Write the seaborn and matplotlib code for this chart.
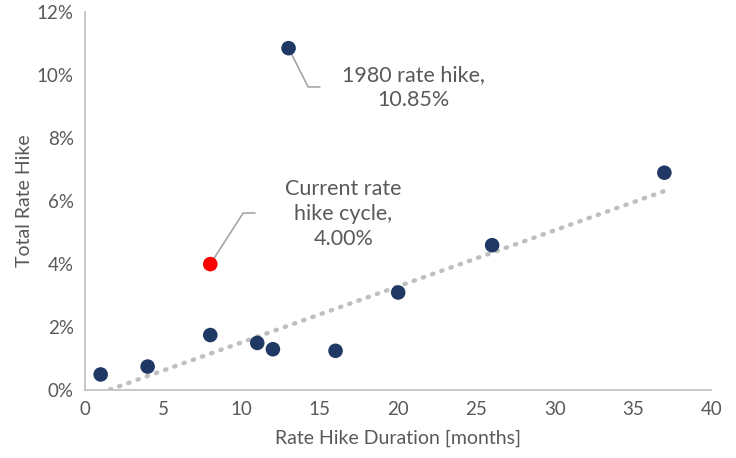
import numpy as np
import pandas as pd
import seaborn as sns
import matplotlib.pyplot as plt
from matplotlib.ticker import PercentFormatter

# historical hikes: duration in months, total hike in %
duration = [1, 4, 8, 11, 12, 13, 16, 20, 26, 37]
total_hike = [0.50, 0.75, 1.75, 1.50, 1.30, 10.85, 1.25, 3.10, 4.60, 6.90]
current_duration = [8]
current_hike = [4.00]
outlier_label = "1980 rate hike,\n10.85%"
current_label = "Current rate\nhike cycle,\n4.00%"

df = pd.DataFrame({"duration": duration, "hike": total_hike})
trend = df[df["hike"] < 10]  # trendline leaves out the 1980 outlier

sns.set_style("white")
plt.rcParams["font.family"] = ["Lato", "DejaVu Sans"]
txt = "#595959"
navy = "#1f3864"

fig = plt.figure(figsize=(7.36, 4.58), dpi=100)
ax = fig.add_axes([0.1155, 0.148, 0.851, 0.826])

sns.regplot(data=trend, x="duration", y="hike", ci=None, scatter=False, ax=ax,
            line_kws=dict(color="#bfbfbf", lw=3.2, ls=(0, (0.3, 1.9)),
                          dash_capstyle="round", zorder=1))
sns.scatterplot(data=df, x="duration", y="hike", ax=ax, color=navy, s=110,
                edgecolor="none", zorder=3)
sns.scatterplot(x=current_duration, y=current_hike, ax=ax, color="#ff0000",
                s=110, edgecolor="none", zorder=3)

# leader lines for the labels
ax.plot([13, 14.25, 15.0], [10.85, 9.62, 9.62], color="#a6a6a6", lw=1.2, zorder=2)
ax.plot([8, 10.1, 10.86], [4.0, 5.62, 5.62], color="#a6a6a6", lw=1.2, zorder=2)
ax.text(20.96, 9.59, outlier_label, ha="center", va="center", fontsize=15.5,
        color=txt, linespacing=1.3)
ax.text(16.5, 5.59, current_label, ha="center", va="center", fontsize=15.5,
        color=txt, linespacing=1.3)

ax.set_xlim(0, 40)
ax.set_ylim(0, 12)
ax.set_xticks(range(0, 41, 5))
ax.set_yticks(range(0, 13, 2))
ax.yaxis.set_major_formatter(PercentFormatter(decimals=0))
ax.tick_params(length=0, labelsize=13.5, labelcolor=txt, pad=8)
ax.set_xlabel("Rate Hike Duration [months]", fontsize=14, color=txt, labelpad=8)
ax.set_ylabel("Total Rate Hike", fontsize=14, color=txt, labelpad=3)
for side in ["top", "right"]:
    ax.spines[side].set_visible(False)
for side in ["left", "bottom"]:
    ax.spines[side].set_color("#bfbfbf")
    ax.spines[side].set_linewidth(1.2)

fig.savefig("out.png", dpi=100)
